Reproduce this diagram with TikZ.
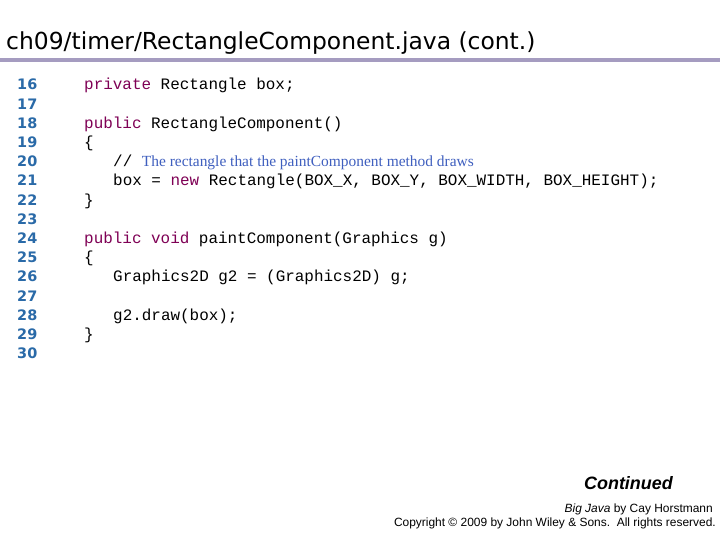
\documentclass[tikz,border=0pt]{standalone}
\usepackage{fontspec}
\setmainfont{Liberation Serif}
\newfontfamily\codefont{Liberation Mono}
\newfontfamily\titlefont{DejaVu Sans}
\newfontfamily\armfont{Liberation Sans}
\definecolor{kw}{HTML}{7F0055}
\definecolor{cm}{HTML}{3F5FBF}
\definecolor{ln}{HTML}{2A6AA8}
\definecolor{rule}{HTML}{A59CC0}
\begin{document}
\begin{tikzpicture}[x=1bp,y=-1bp,
  num/.style={anchor=base west,inner sep=0,font=\titlefont\fontsize{14.5}{14.5}\selectfont\bfseries,text=ln},
  code/.style={anchor=base west,inner sep=0,font=\codefont\fontsize{16}{16}\selectfont}]
\useasboundingbox[fill=white] (0,0) rectangle (720,540);
\node[anchor=base west,inner sep=0,font=\titlefont\fontsize{23.5}{23.5}\selectfont] (title) at (6,50) {ch09/timer/RectangleComponent.java (cont.)};
\fill[rule] (0,58) rectangle (720,62);
\foreach \n [count=\i from 0] in {16,...,30} {
  \node[num] (n\n) at (17,{90+19.2*\i}) {\n};
}
\newcommand\kw[1]{\textcolor{kw}{#1}}
\node[code] (c16) at (84,90) {\kw{private} Rectangle box;};
\node[code] (c18) at (84,128.4) {\kw{public} RectangleComponent()};
\node[code] (c19) at (84,147.6) {\{};
\node[code] (c20) at (113,166.8) {// \textcolor{cm}{\rmfamily\fontsize{15.5}{15.5}\selectfont The rectangle that the paintComponent method draws}};
\node[code] (c21) at (113,186) {box = \kw{new} Rectangle(BOX\_X, BOX\_Y, BOX\_WIDTH, BOX\_HEIGHT);};
\node[code] (c22) at (84,205.2) {\}};
\node[code] (c24) at (84,243.6) {\kw{public} \kw{void} paintComponent(Graphics g)};
\node[code] (c25) at (84,262.8) {\{};
\node[code] (c26) at (113,282) {Graphics2D g2 = (Graphics2D) g;};
\node[code] (c28) at (113,320.4) {g2.draw(box);};
\node[code] (c29) at (84,339.6) {\}};
\node[anchor=base east,inner sep=0,font=\armfont\fontsize{18}{18}\selectfont\bfseries\itshape] (cont) at (673,489) {Continued};
\node[anchor=base east,inner sep=0,font=\armfont\fontsize{12}{12}\selectfont] (big) at (713,512) {\textit{Big Java} by Cay Horstmann};
\node[anchor=base east,inner sep=0,font=\armfont\fontsize{12}{12}\selectfont] (copy) at (716,526) {Copyright © 2009 by John Wiley \& Sons.\ \ All rights reserved.};
\end{tikzpicture}
\end{document}
